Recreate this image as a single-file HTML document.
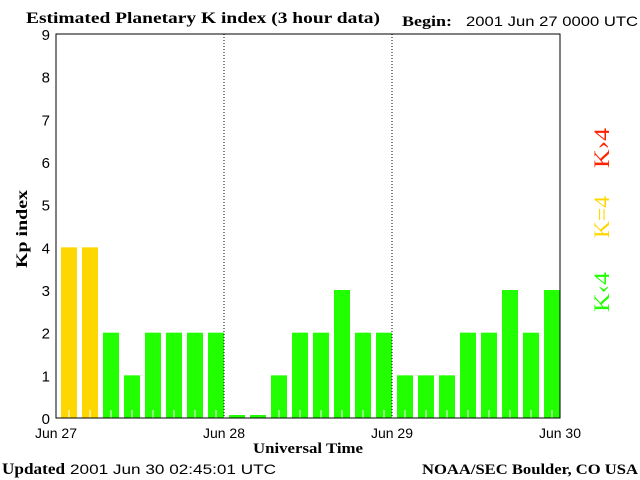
<!DOCTYPE html>
<html><head><meta charset="utf-8"><style>
body{margin:0;background:#fff;}
svg{display:block;}
</style></head><body>
<svg id="chart" width="640" height="480" xmlns="http://www.w3.org/2000/svg">
<rect x="0" y="0" width="640" height="480" fill="#fff"/>
<text x="26" y="23" textLength="354" lengthAdjust="spacingAndGlyphs" font-family="Liberation Serif, serif" font-weight="bold" font-size="16">Estimated Planetary K index (3 hour data)</text>
<text x="402" y="26" textLength="50" lengthAdjust="spacingAndGlyphs" font-family="Liberation Serif, serif" font-weight="bold" font-size="15">Begin:</text>
<text x="466" y="26" textLength="172" lengthAdjust="spacingAndGlyphs" font-family="Liberation Sans, sans-serif" font-size="14">2001 Jun 27 0000 UTC</text>
<g id="bars"></g>
<g id="axes"></g>
<text transform="translate(27,229) rotate(-90)" text-anchor="middle" textLength="78" lengthAdjust="spacingAndGlyphs" font-family="Liberation Serif, serif" font-weight="bold" font-size="16">Kp index</text>
<text x="253" y="453" textLength="110" lengthAdjust="spacingAndGlyphs" font-family="Liberation Serif, serif" font-weight="bold" font-size="15">Universal Time</text>
<text x="2" y="474" textLength="63" lengthAdjust="spacingAndGlyphs" font-family="Liberation Serif, serif" font-weight="bold" font-size="16">Updated</text>
<text x="70" y="474" textLength="206" lengthAdjust="spacingAndGlyphs" font-family="Liberation Sans, sans-serif" font-size="14">2001 Jun 30 02:45:01 UTC</text>
<text x="422" y="474" textLength="216" lengthAdjust="spacingAndGlyphs" font-family="Liberation Serif, serif" font-weight="bold" font-size="15">NOAA/SEC Boulder, CO USA</text>
<text x="0" y="0" transform="translate(609,312) rotate(-90)" textLength="40" lengthAdjust="spacingAndGlyphs" font-family="Liberation Serif, serif" font-size="22" fill="#22ff00">K‹4</text>
<text x="0" y="0" transform="translate(609,238) rotate(-90)" textLength="42" lengthAdjust="spacingAndGlyphs" font-family="Liberation Serif, serif" font-size="22" fill="#ffd700">K=4</text>
<text x="0" y="0" transform="translate(609,168) rotate(-90)" textLength="40" lengthAdjust="spacingAndGlyphs" font-family="Liberation Serif, serif" font-size="22" fill="#ff2200">K›4</text>
</svg>
<script>
const kpValues = [4,4,2,1,2,2,2,2, 0,0,1,2,2,3,2,2, 1,1,1,2,2,3,2,3];
const yTicks = [0,1,2,3,4,5,6,7,8,9];
const dayLabels = ["Jun 27","Jun 28","Jun 29","Jun 30"];
const NS='http://www.w3.org/2000/svg';
const L=56,R=560,T=34,B=418;
const slot=(R-L)/kpValues.length;
function xs(i){return L+i*slot;}
function ys(v){return B-v*(B-T)/9;}
function mk(tag,attrs,parent){const e=document.createElementNS(NS,tag);for(const k in attrs)e.setAttribute(k,attrs[k]);parent.appendChild(e);return e;}
const bars=document.getElementById('bars'), axes=document.getElementById('axes');
kpValues.forEach((v,i)=>{
  const h=v===0?3:B-ys(v);
  const col=v<4?'#22ff00':(v===4?'#ffd700':'#ff2200');
  const r=mk('rect',{x:xs(i)+5,y:B-h,width:slot-5,height:h,fill:col},bars);
  
  
  if(v>0){mk('line',{x1:xs(i)+slot/2+2.5,x2:xs(i)+slot/2+2.5,y1:B,y2:B-8,stroke:'#fff','stroke-width':1},bars);}
});
mk('rect',{x:L,y:T,width:R-L,height:B-T,fill:'none',stroke:'#000','stroke-width':1},axes);
[1,2].forEach(d=>{const x=L+d*(R-L)/3;mk('line',{x1:x,x2:x,y1:T,y2:B,stroke:'#000','stroke-dasharray':'1,2'},axes);});
yTicks.forEach(t=>{
  const tx=mk('text',{x:50,y:ys(t)+6,'text-anchor':'end','font-family':'Liberation Sans, sans-serif','font-size':'15'},axes);
  tx.textContent=t;
  
  
});
dayLabels.forEach((d,i)=>{
  const tx=mk('text',{x:L+i*(R-L)/3,y:438,'text-anchor':'middle','font-family':'Liberation Sans, sans-serif','font-size':'14'},axes);
  tx.textContent=d;
  
  
});
</script>
</body></html>
